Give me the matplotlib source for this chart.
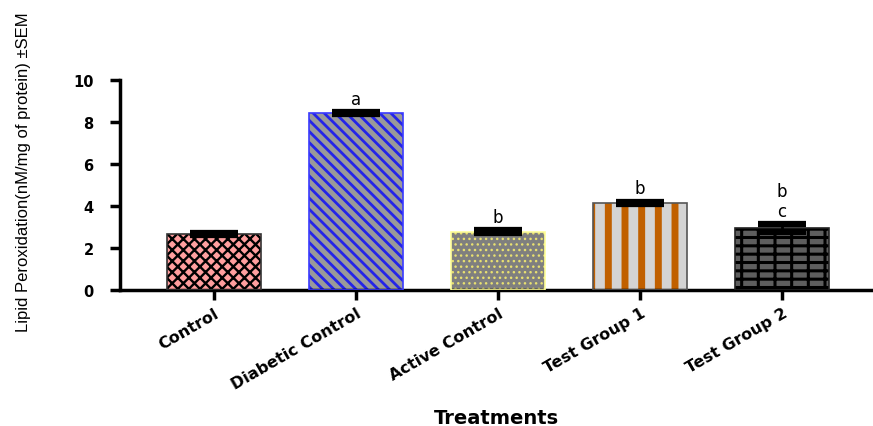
import matplotlib
matplotlib.use('Agg')
import matplotlib.pyplot as plt
import numpy as np

# data
groups = ['Control', 'Diabetic Control', 'Active Control', 'Test Group 1', 'Test Group 2']
means = [2.66, 8.42, 2.77, 4.15, 2.95]
sems = [0.06, 0.05, 0.07, 0.06, 0.19]
letters = ['', 'a', 'b', 'b', 'b\nc']

# look of each bar: fill, hatch colour, hatch, edge
fills = ['#FF9E9E', '#9A9A9A', '#7F7F7F', '#D4D4D4', '#5E5E5E']
hatch_cols = ['black', '#2424E8', '#E8E070', '#C06000', 'black']
hatches = ['xxx', '\\\\\\', '...', '|', '|--']
hatch_lw = [1.7, 2.0, 1.0, 5.0, 2.2]
edges = ['#333333', '#3A3AFF', '#FFFF99', '#555555', '#222222']

fig = plt.figure(figsize=(8.73, 4.27), dpi=100)
ax = fig.add_axes([0.1375, 0.3185, 0.8625, 0.4918])

x = np.arange(len(groups))
w = 0.66
for i in range(len(groups)):
    ax.bar(x[i], means[i], width=w, color=fills[i], edgecolor='none', zorder=1)
    plt.rcParams['hatch.linewidth'] = hatch_lw[i]
    hb = ax.bar(x[i], means[i], width=w, color='none', edgecolor=hatch_cols[i],
                hatch=hatches[i], linewidth=0, zorder=2)
    for p in hb:
        if hasattr(p, 'set_hatch_linewidth'):
            p.set_hatch_linewidth(hatch_lw[i])
    ax.bar(x[i], means[i], width=w, color='none', edgecolor=edges[i],
           linewidth=1.2, zorder=3)

ax.errorbar(x, means, yerr=sems, fmt='none', ecolor='black', elinewidth=2,
            capsize=17, capthick=4.5, zorder=4)

for i in range(len(groups)):
    if letters[i]:
        ax.annotate(letters[i], (x[i], means[i] + sems[i]), xytext=(0, 3),
                    textcoords='offset points', ha='center', va='bottom',
                    fontsize=12, linespacing=1.1, zorder=5)

ax.set_xlim(-0.662, 4.64)
ax.set_ylim(0, 10)
ax.set_yticks([0, 2, 4, 6, 8, 10])
ax.set_xticks(x)
ax.set_xticklabels(groups, rotation=30, ha='right', rotation_mode='anchor',
                   fontsize=11.5, fontweight='bold')
for lab in ax.get_yticklabels():
    lab.set_fontweight('bold')
    lab.set_fontsize(10.5)

for s in ['top', 'right']:
    ax.spines[s].set_visible(False)
ax.spines['left'].set_linewidth(2.5)
ax.spines['bottom'].set_linewidth(2.5)
ax.tick_params(axis='both', width=2.5, length=7, pad=4)
ax.tick_params(axis='y', pad=12)

ax.set_ylabel('Lipid Peroxidation(nM/mg of protein) \u00b1SEM',
              family=['Liberation Sans', 'DejaVu Sans'], fontsize=12)
ax.yaxis.set_label_coords(-0.118, 0.567)
ax.set_xlabel('Treatments', fontsize=14, fontweight='bold', va='center')
ax.xaxis.set_label_coords(0.5, -0.605)

fig.savefig('out.png', dpi=100)
